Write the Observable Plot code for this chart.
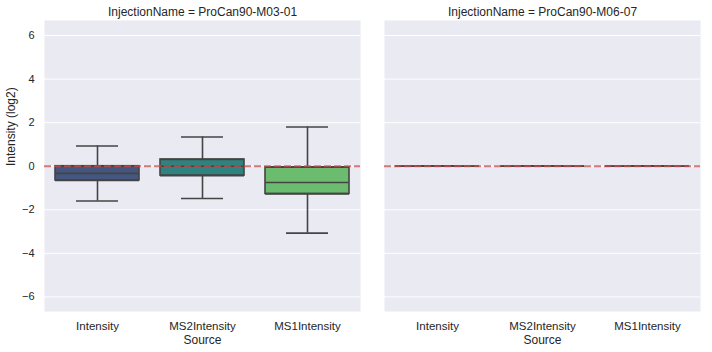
<!DOCTYPE html>
<html>
<head>
<meta charset="utf-8">
<script src="https://cdn.jsdelivr.net/npm/d3@7"></script>
<script src="https://cdn.jsdelivr.net/npm/@observablehq/plot@0.6"></script>
<style>
  html, body { margin: 0; padding: 0; background: #ffffff; }
  #chart svg { display: block; }
</style>
</head>
<body>
<div id="chart"></div>
<script>
// ---- data ----
const injections = ["ProCan90-M03-01", "ProCan90-M06-07"];
const sources = ["Intensity", "MS2Intensity", "MS1Intensity"];
const colors = ["#455681", "#2f837f", "#6bbc6e"];
// per injection, per source
const whiskerLow  = [[-1.60, -1.48, -3.07], [0, 0, 0]];
const q1          = [[-0.65, -0.43, -1.27], [0, 0, 0]];
const median      = [[-0.33,  0.00, -0.75], [0, 0, 0]];
const q3          = [[ 0.00,  0.31, -0.05], [0, 0, 0]];
const whiskerHigh = [[ 0.93,  1.34,  1.80], [0, 0, 0]];
const yTicks = [-6, -4, -2, 0, 2, 4, 6];
const yDomain = [-6.67, 6.69];
const refLine = [0];

const rows = [];
injections.forEach((inj, i) => sources.forEach((s, j) => rows.push({
  inj, source: s,
  lo: whiskerLow[i][j], q1: q1[i][j], med: median[i][j], q3: q3[i][j], hi: whiskerHigh[i][j]
})));

const font = "'Liberation Sans', Arial, Helvetica, sans-serif";
const lineColor = "#444444";

const chart = Plot.plot({
  width: 712,
  height: 352,
  marginTop: 20,
  marginBottom: 41,
  marginLeft: 44,
  marginRight: 12,
  style: { fontFamily: font, color: "#262626", background: "#ffffff" },
  fx: { domain: injections, paddingInner: 24 / 340, paddingOuter: 0 },
  x: { domain: sources, paddingInner: 0.2, paddingOuter: 0.1 },
  y: { domain: yDomain },
  color: { domain: sources, range: colors },
  marks: [
    Plot.frame({ fill: "#eaeaf2", stroke: null }),
    Plot.gridY(yTicks, { stroke: "#ffffff", strokeOpacity: 1, strokeWidth: 1 }),
    Plot.ruleX(rows, { fx: "inj", x: "source", y1: "lo", y2: "hi", stroke: lineColor, strokeWidth: 1.6 }),
    Plot.barY(rows, { fx: "inj", x: "source", y1: "q1", y2: "q3", fill: "source", stroke: lineColor, strokeWidth: 1.6 }),
    Plot.tickY(rows, { fx: "inj", x: "source", y: "q1", stroke: lineColor, strokeWidth: 1.6 }),
    Plot.tickY(rows, { fx: "inj", x: "source", y: "q3", stroke: lineColor, strokeWidth: 1.6 }),
    Plot.tickY(rows, { fx: "inj", x: "source", y: "med", stroke: lineColor, strokeWidth: 1.6 }),
    Plot.tickY(rows, { fx: "inj", x: "source", y: "lo", stroke: lineColor, strokeWidth: 1.6, insetLeft: 21, insetRight: 21 }),
    Plot.tickY(rows, { fx: "inj", x: "source", y: "hi", stroke: lineColor, strokeWidth: 1.6, insetLeft: 21, insetRight: 21 }),
    Plot.ruleY(refLine, { stroke: "#c44e52", strokeOpacity: 0.75, strokeWidth: 2, strokeDasharray: "7,3" }),
    Plot.axisY(yTicks, { tickSize: 0, tickPadding: 10, fontSize: 11, label: null, fill: "#262626" }),
    Plot.axisX({ tickSize: 0, tickPadding: 10, fontSize: 11.5, label: null, fill: "#262626" }),
    Plot.axisFx({ anchor: "top", tickSize: 0, tickPadding: 5, fontSize: 12, label: null, fill: "#262626",
      tickFormat: d => "InjectionName = " + d }),
    Plot.text(["Source"], { text: d => d, frameAnchor: "bottom", dy: 24, lineAnchor: "top", fontSize: 12, fill: "#262626" }),
    Plot.text([{ inj: injections[0], t: "Intensity (log2)" }], { fx: "inj", text: "t", frameAnchor: "left", rotate: -90, dx: -33, fontSize: 12, fill: "#262626" })
  ]
});
document.getElementById("chart").appendChild(chart);
</script>
</body>
</html>
